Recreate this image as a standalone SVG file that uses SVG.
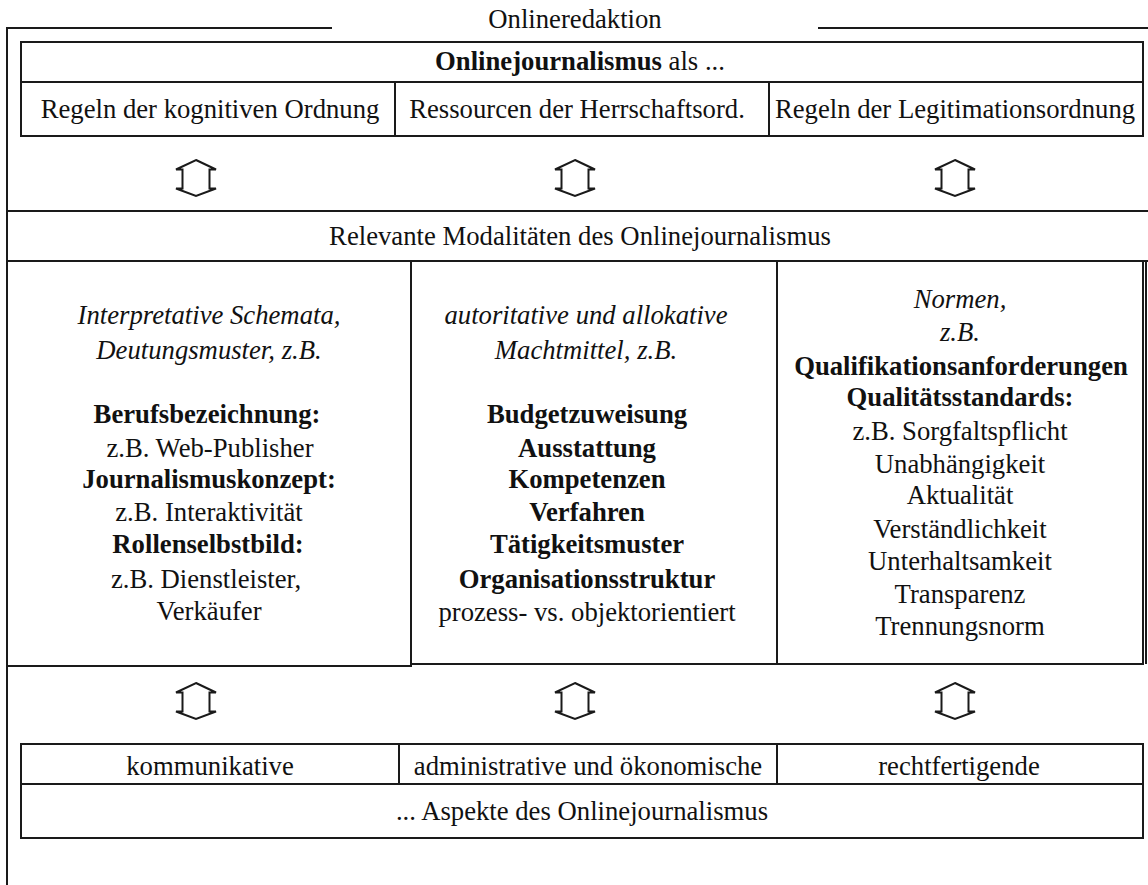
<svg xmlns="http://www.w3.org/2000/svg" xmlns:xlink="http://www.w3.org/1999/xlink" width="1148" height="885" viewBox="0 0 1148 885">
<style>
  .ln { fill: none; stroke: #1a1a1a; stroke-width: 2; }
  .bx { fill: #ffffff; stroke: #1a1a1a; stroke-width: 2; }
  text { font-family: "Liberation Serif", "Times New Roman", serif; font-size: 26.7px; fill: #111; text-anchor: middle; }
  .b { font-weight: bold; }
  .i { font-style: italic; }
  .arr { fill: #ffffff; stroke: #1a1a1a; stroke-width: 2; stroke-linejoin: miter; }
</style>
<defs>
  <polygon id="dbl" class="arr" points="0,0 20,9.5 13.5,9.5 13.5,28.5 20,28.5 0,36 -20,28.5 -13.5,28.5 -13.5,9.5 -20,9.5"/>
</defs>
<rect width="1148" height="885" fill="#ffffff"/>

<g id="frame">
  <line class="ln" x1="7" y1="28" x2="332" y2="28"/>
  <line class="ln" x1="818" y1="28" x2="1148" y2="28"/>
  <line class="ln" x1="7" y1="27" x2="7" y2="885"/>
  <line class="ln" x1="1146" y1="261" x2="1146" y2="664"/>
  <text x="575" y="28">Onlineredaktion</text>
</g>

<g id="top-box">
  <rect class="bx" x="21" y="42" width="1122" height="94"/>
  <line class="ln" x1="21" y1="82" x2="1143" y2="82"/>
  <line class="ln" x1="395" y1="82" x2="395" y2="136"/>
  <line class="ln" x1="769" y1="82" x2="769" y2="136"/>
  <text x="580" y="70"><tspan class="b">Onlinejournalismus</tspan> als ...</text>
  <text x="210" y="118">Regeln der kognitiven Ordnung</text>
  <text x="577" y="118">Ressourcen der Herrschaftsord.</text>
  <text x="955" y="118">Regeln der Legitimationsordnung</text>
</g>

<g id="modalities">
  <rect class="bx" x="7" y="211" width="1143" height="50"/>
  <text x="580" y="245">Relevante Modalitäten des Onlinejournalismus</text>
</g>

<g id="col-left">
  <rect class="bx" x="7" y="261" width="404" height="405"/>
  <text class="i" x="209" y="324">Interpretative Schemata,</text>
  <text class="i" x="209" y="359">Deutungsmuster, z.B.</text>
  <text class="b" x="207" y="423">Berufsbezeichnung:</text>
  <text x="210" y="457">z.B. Web-Publisher</text>
  <text class="b" x="209" y="488">Journalismuskonzept:</text>
  <text x="209" y="521">z.B. Interaktivität</text>
  <text class="b" x="208" y="553">Rollenselbstbild:</text>
  <text x="206" y="588">z.B. Dienstleister,</text>
  <text x="209" y="620">Verkäufer</text>
</g>

<g id="col-middle">
  <rect class="bx" x="411" y="261" width="366" height="403"/>
  <text class="i" x="586" y="324">autoritative und allokative</text>
  <text class="i" x="586" y="359">Machtmittel, z.B.</text>
  <text class="b" x="587" y="423">Budgetzuweisung</text>
  <text class="b" x="587" y="457">Ausstattung</text>
  <text class="b" x="587" y="488">Kompetenzen</text>
  <text class="b" x="587" y="521">Verfahren</text>
  <text class="b" x="587" y="553">Tätigkeitsmuster</text>
  <text class="b" x="587" y="588">Organisationsstruktur</text>
  <text x="587" y="621">prozess- vs. objektorientiert</text>
</g>

<g id="col-right">
  <rect class="bx" x="777" y="261" width="366" height="403"/>
  <text class="i" x="960" y="308">Normen,</text>
  <text class="i" x="960" y="341">z.B.</text>
  <text class="b" x="961" y="375">Qualifikationsanforderungen</text>
  <text class="b" x="960" y="406">Qualitätsstandards:</text>
  <text x="960" y="440">z.B. Sorgfaltspflicht</text>
  <text x="960" y="473">Unabhängigkeit</text>
  <text x="960" y="504">Aktualität</text>
  <text x="960" y="538">Verständlichkeit</text>
  <text x="960" y="570">Unterhaltsamkeit</text>
  <text x="960" y="603">Transparenz</text>
  <text x="960" y="635">Trennungsnorm</text>
</g>

<g id="bottom-box">
  <rect class="bx" x="21" y="744" width="1122" height="94"/>
  <line class="ln" x1="21" y1="784" x2="1143" y2="784"/>
  <line class="ln" x1="399" y1="744" x2="399" y2="784"/>
  <line class="ln" x1="777" y1="744" x2="777" y2="784"/>
  <text x="210" y="775">kommunikative</text>
  <text x="588" y="775">administrative und ökonomische</text>
  <text x="959" y="775">rechtfertigende</text>
  <text x="582" y="820">... Aspekte des Onlinejournalismus</text>
</g>

<g id="connectors">
  <use xlink:href="#dbl" x="196" y="160"/>
  <use xlink:href="#dbl" x="575" y="160"/>
  <use xlink:href="#dbl" x="955" y="160"/>
  <use xlink:href="#dbl" x="196" y="683"/>
  <use xlink:href="#dbl" x="575" y="683"/>
  <use xlink:href="#dbl" x="955" y="683"/>
</g>
</svg>
